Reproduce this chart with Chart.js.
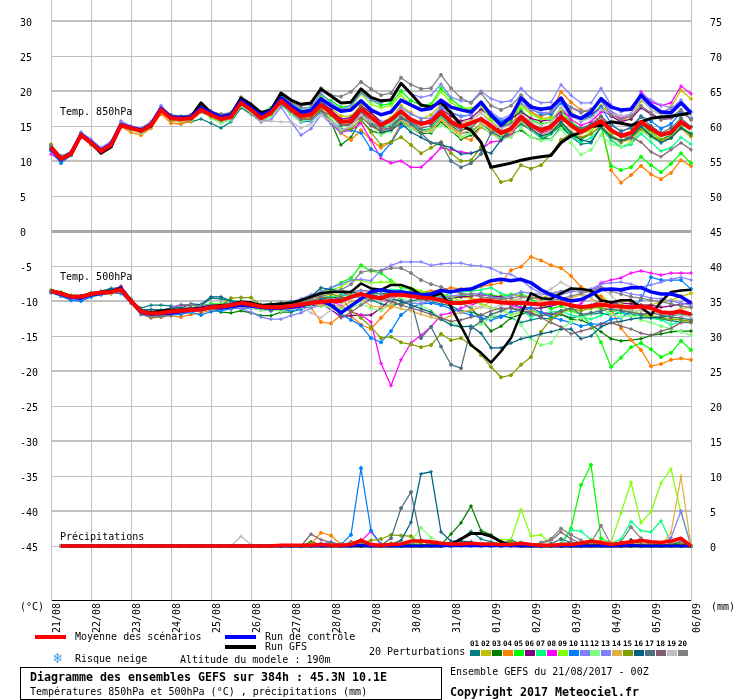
<!DOCTYPE html>
<html>
<head>
<meta charset="utf-8">
<title>Diagramme des ensembles GEFS</title>
<script src="https://cdn.jsdelivr.net/npm/chart.js@4"></script>
<style>
  body { margin: 0; background: #fff; }
  #page { position: relative; width: 740px; height: 700px; overflow: hidden; }
  #gefs { position: absolute; left: 0; top: 0; }
  .t { position: absolute; font: 10px/12px "DejaVu Sans Mono", monospace; color: #000; white-space: pre; }
  .b { font: bold 11.63px/14px "DejaVu Sans Mono", monospace; }
  .sw { position: absolute; }
  .box { position: absolute; left: 20px; top: 667px; width: 420px; height: 31px; border: 1px solid #000; }
</style>
</head>
<body>
<div id="page">
  <canvas id="gefs" width="740" height="700"></canvas>
  <div class="t" style="left:60px;top:106px">Temp. 850hPa</div>
  <div class="t" style="left:60px;top:271px">Temp. 500hPa</div>
  <div class="t" style="left:60px;top:531px">Précipitations</div>
  <div class="t" style="left:20px;top:601px">(°C)</div>
  <div class="t" style="left:711px;top:601px">(mm)</div>
  <div class="sw" style="left:35px;top:635px;width:31px;height:4px;background:#ff0000"></div>
  <div class="t" style="left:75px;top:631px">Moyenne des scénarios</div>
  <div class="sw" style="left:225px;top:635px;width:31px;height:4px;background:#0000ff"></div>
  <div class="t" style="left:265px;top:631px">Run de contrôle</div>
  <div class="sw" style="left:225px;top:645px;width:31px;height:4px;background:#000"></div>
  <div class="t" style="left:265px;top:641px">Run GFS</div>
  <div class="t" style="left:53px;top:652px;font-size:15px;font-weight:bold;color:#3f9fe8">❄</div>
  <div class="t" style="left:75px;top:653px">Risque neige</div>
  <div class="t" style="left:180px;top:654px">Altitude du modele : 190m</div>
  <div class="t" style="left:369px;top:646px">20 Perturbations</div>
  <div class="box"></div>
  <div class="t b" style="left:30px;top:670px">Diagramme des ensembles GEFS sur 384h : 45.3N 10.1E</div>
  <div class="t" style="left:30px;top:686px">Températures 850hPa et 500hPa (°C) , précipitations (mm)</div>
  <div class="t" style="left:450px;top:666px">Ensemble GEFS du 21/08/2017 - 00Z</div>
  <div class="t b" style="left:450px;top:685px">Copyright 2017 Meteociel.fr</div>
</div>
<script>
const dayLabels = ['21/08','22/08','23/08','24/08','25/08','26/08','27/08','28/08','29/08','30/08','31/08','01/09','02/09','03/09','04/09','05/09','06/09'];
const tempTicks = [30,25,20,15,10,5,0,-5,-10,-15,-20,-25,-30,-35,-40,-45];
const mmTicks = [75,70,65,60,55,50,45,40,35,30,25,20,15,10,5,0];
const memberNames = ['01','02','03','04','05','06','07','08','09','10','11','12','13','14','15','16','17','18','19','20'];
const memberColors = ['#008080','#c0c000','#008000','#ff8000','#00ff00','#800080','#00ff80','#ff00ff','#80ff00','#0080ff','#8080ff','#80ff80','#8080ff','#e0b040','#80a000','#006080','#507080','#806070','#c0c0c0','#808080'];
const memberMarkers = ['cross','circle','rectRot','circle','circle','cross','cross','cross','cross','circle','cross','circle','rectRot','cross','circle','cross','circle','cross','cross','circle'];

// 850 hPa, one value every 6h, four per day
const t850Mean = [11.9,10.3,11,13.7, 12.6,11.4,12.3,15.1, 14.7,14.3,15.1,17.3, 16.1,16,16.1,17.3, 16.6,16,16.3,18.3, 17.3,16.1,16.9,18.6, 17.4,16.4,16.6,18, 16.9,15.6,15.7,17.4, 16.3,15.1,15.9,17.1, 15.9,15.3,15.6,17, 15.6,14.9,15.4,16, 15,14,14.6,16.3, 15.1,14.4,14.9,16.3, 15.1,14.1,14.9,15.7, 14.4,13.6,14,15.6, 14.6,13.7,14.1,15.6, 14.6];
const t850Control = [11.8,10.2,11.1,13.8, 12.7,11.5,12.4,15.2, 14.8,14.4,15.2,17.5, 16.3,16.2,16.3,17.6, 16.9,16.3,16.6,18.6, 17.6,16.5,17.2,19, 17.9,17,17.2,18.9, 17.9,17.1,17.3,18.6, 17.3,16.6,17,18.7, 18,17.3,17.5,18.7, 17.7,17.3,17,18.4, 16.6,15.1,16.3,19, 17.7,17.4,17.6,19, 16.6,16.1,17,18.9, 17.7,17.3,17.4,19.4, 18,17,16.9,18.3, 16.9];
const t850Gfs = [12,10.3,10.9,13.7, 12.6,11.1,12,15.1, 14.7,14.4,15,17.4, 16.3,16.1,16.3,18.3, 16.9,16.3,16.6,19, 18.1,16.9,17.3,19.7, 18.7,18.1,18.3,20.3, 19.3,18.3,18.4,20.3, 19.1,18.6,18.7,21.1, 19.6,18,17.7,18.4, 16.9,15.1,14.4,12.7, 9.1,9.4,9.7,10.1, 10.4,10.6,10.8,12.6, 13.6,14.1,14.9,15.1, 15.6,15.4,15.1,15.6, 16.1,16.3,16.4,16.6, 16.9];
const t850_01 = [11.6,10,11,13.6, 12.5,11.5,12.4,15, 14.5,14,14.8,17, 15.8,15.6,15.6,16, 15.4,14.7,15.6,17.6, 16.7,15.6,16.4,17.9, 17.3,16.4,16.3,18.6, 17.1,15.7,15.4,17.1, 15.6,14.9,15,16.3, 15.4,14.4,14.6,16.3, 15.1,14,14.1,15.4, 14.3,13.4,14,15.3, 14.4,13.3,13.1,14.9, 13.5,12.4,12.6,14.9, 13,12,12.4,14.6, 13.6,12.7,13.3,14.9, 13.9];
const t850_02 = [12.4,10.4,11,13.5, 12.7,11.3,12.5,15.4, 14.5,14.1,15,17, 16,16,16.2,17.5, 16.7,16.2,16.4,18.4, 17.6,16.5,17.1,19, 18,17.2,17.2,19, 17.6,16.4,16.4,18, 17,15.5,16.2,17.9, 16.9,16,16.6,18, 16.4,15.4,15.8,16.9, 15.7,14.6,15.8,18, 17.1,16,16.3,18.6, 17,16,16.5,17.9, 16.7,15.8,16,18.6, 17.7,16.7,17.7,20.1, 18.9];
const t850_03 = [11.7,10.1,11,13.6, 12.6,11.5,12.3,15, 14.6,14.2,15,17.2, 16,15.8,16,17, 16.3,15.6,16.2,18, 17,15.9,16.7,18.3, 17,15.9,16,17.6, 15.6,12.3,13.4,15.9, 14.3,13.9,14.4,15.7, 14.7,13.9,14,15.6, 14.3,13.1,13.7,14.9, 14,13.1,13.9,14.4, 13.4,13,13.9,15.1, 13.7,13.1,13.9,15, 13.4,12.6,13.4,15.4, 14.1,13.1,13.7,14.9, 13.9];
const t850_04 = [12,10.6,11.2,13.9, 12.3,11.4,12.1,14.9, 14.1,13.7,14.7,16.7, 15.4,15.3,15.7,17, 16.4,15.9,16.3,18.1, 17,15.9,16.6,18.1, 16.9,15.9,16,17.4, 16,14,13,14.4, 13,11.9,12.7,15.4, 14.7,14.1,14.4,15.9, 14.9,13.4,13,14.9, 14.1,13,13.7,19.3, 17,16.3,17,19.9, 18.4,17.3,16.9,15.4, 8.7,6.9,8,9.3, 8.1,7.4,8.3,10.1, 9.3];
const t850_05 = [11.9,10.4,11.1,13.8, 12.8,11.6,12.5,15.3, 14.9,14.5,15.3,17.6, 16.4,16.3,16.5,17.8, 17.1,16.5,16.8,18.9, 18,17,17.6,19.3, 18.3,17.5,17.7,19.4, 18.6,17.7,17.9,19.9, 18.7,18,18.2,20, 18.6,18,18.1,20.4, 18.9,17.7,17.3,18.3, 16.3,14.9,15.9,17.3, 15.9,15.3,15.6,17.1, 15.6,14.6,15,14.9, 9.3,8.7,9.1,10.6, 9.4,8.4,9.6,11.1, 9.7];
const t850_06 = [11.8,10.2,10.9,13.6, 12.6,11.4,12.4,15.2, 14.6,14.2,15.1,17.3, 16.2,16.1,16.1,17.4, 16.7,16,16.4,18.4, 17.5,16.4,17,18.7, 17.6,16.7,16.9,18.4, 17.3,16,16.2,17.8, 16.9,15.6,15.3,16.9, 15.7,15.4,15.9,17.4, 16.4,15.7,16.1,17.4, 16.3,15.6,16,17, 16.1,15.7,15.9,17.1, 16.3,15.9,16.6,17.6, 16.4,15.6,16,17.6, 16.7,15.9,16.1,17, 16];
const t850_07 = [11.9,10.3,11,13.7, 12.5,11.3,12.2,15, 14.6,14.2,15,17, 15.8,15.7,15.9,17, 16.3,15.7,16,18, 17,16,16.7,18.3, 17,16.1,16.3,17.9, 16.5,15.3,15.7,17.6, 16.1,14.7,15.1,16.9, 15.4,14.1,14.7,16.3, 15.3,14.7,15.1,16.1, 14.6,13.7,14.4,15.7, 14.4,13.4,13.9,15.6, 13.6,12.7,13.3,14.7, 13,12,12.4,13.9, 12.7,11.4,11.9,13.4, 12.4];
const t850_08 = [11,10,10.9,13.9, 12.8,11.6,12.4,15, 14.5,14.3,15.2,17.2, 16,15.9,16,17.1, 16.4,15.7,16,18, 16.9,15.9,16.5,18.1, 16.9,15.7,15.9,17.1, 15.4,14.1,14.4,15.4, 13,10.4,9.7,10, 9.1,9.1,10.4,11.9, 11.6,11.3,11.1,11.6, 12.7,12.9,13.7,15.9, 14.9,14,14.4,17.6, 15.9,15.1,15.6,17, 16.9,16.1,16.6,19.9, 18.4,17.9,18.3,20.7, 19.6];
const t850_09 = [12,10.5,11.2,13.8, 12.7,11.5,12.5,15.2, 14.8,14.4,15.2,17.5, 16.3,16.2,16.3,17.7, 17,16.4,16.7,18.7, 17.7,16.7,17.3,19.1, 18,17.2,17.4,19.1, 18.1,17.3,17.6,19.6, 18.1,17.6,17.9,19.4, 18,17.4,17.9,19.9, 18.4,17.4,17.6,17.9, 15.9,15.4,16.4,17.9, 16.7,16,16,17.4, 14.9,14,14.3,15.6, 14,13.6,13.4,14.9, 14,13.1,13.3,14.9, 13.6];
const t850_10 = [11.5,9.7,10.8,13.8, 12.7,11.6,12.3,14.9, 14.6,14.1,14.9,17.1, 16,15.9,16,17.1, 16.6,16.1,16.4,18.1, 17.1,16,16.6,18.1, 16.7,15.6,15.7,17, 15.7,14.6,14.4,14, 11.7,10.9,12.6,14.9, 14.9,15.6,15.3,17.7, 16.9,16.4,16.6,18.3, 16.7,15.7,16.3,19, 17.4,16.7,16.7,18.3, 16.6,15.7,16.4,17.7, 15.4,14.1,14.9,16.4, 15.7,14.6,15.3,17, 16.1];
const t850_11 = [12.1,10.6,11.4,14.1, 13.1,11.9,12.8,15.6, 15,14.7,15.6,17.9, 16.4,16.3,16.6,18.1, 17.1,16.6,16.9,18.7, 17.9,16.9,17.4,19.4, 18.3,17.6,17.6,19.7, 18.3,17.4,17.9,19.7, 18.7,18.3,18.9,20.9, 19.6,19.1,19.4,21, 19.1,18.6,18.4,20, 18.9,18.4,18.6,20.4, 19,18.3,18.4,20.9, 19.4,18.3,18.3,20.4, 18,17,17.6,19.6, 18.7,18,17.6,18.4, 16.9];
const t850_12 = [11.9,10.2,10.9,13.5, 12.4,11.3,12.3,15, 14.4,14,14.9,17, 15.9,15.7,15.9,17.1, 16.1,15.4,15.9,17.9, 16.9,15.7,16.4,18, 16.7,15.7,15.9,17.1, 16,14.9,15,16.7, 15.1,13.7,14.3,15.6, 14.6,14.1,14.3,15.1, 14.4,13.4,14,15.1, 13.9,13.1,13.4,14.7, 13.4,12.9,13.1,14.6, 12.6,10.9,11.6,13.7, 12.4,12,12.7,14.4, 13.3,12.7,13.4,15, 14];
const t850_13 = [12.2,10.7,11.3,14.1, 13,11.7,12.7,15.7, 14.9,14.6,15.6,17.9, 16.4,16.2,16.4,18, 16.9,15.9,16,18.7, 17.1,15.6,15.9,17.7, 15.6,13.7,14.6,16.6, 15.3,14,15,16.9, 16,15.6,15.9,17.6, 16.7,16.1,16.1,17.7, 16.9,16.3,16.6,18.1, 17,16,16.6,18.3, 17.3,16.9,17,18.6, 17.7,17.1,17.3,18.6, 17.1,16.4,16.7,18.9, 17.7,17.1,17.4,18.7, 17.1];
const t850_14 = [12.1,10.4,11,13.6, 12.4,11.2,12.1,14.9, 14.4,14.1,14.9,17, 15.7,15.6,15.9,17.1, 16.3,15.7,16.1,18.1, 17,15.9,16.6,18.1, 17.1,16,16.3,17.7, 16.6,15.3,15.4,17, 15.7,14.4,14.7,15.9, 15,14.1,14.4,15.9, 14.7,14,14.4,15.3, 14.6,13.7,14.1,15.7, 14.4,13.7,14.3,15.6, 14.3,13.4,14,14.9, 13.3,12.7,13,14.6, 13.7,12.9,13.4,14.6, 13.4];
const t850_15 = [12.3,10.5,11.1,13.7, 12.5,11.2,12.2,15, 14.6,14.3,15.1,17.1, 15.9,15.9,16,17.3, 16.4,15.9,16.2,18.1, 17,16,16.7,18.3, 17.1,16,16.1,17.3, 15.7,14.3,14.6,15.9, 14.1,12.3,12.7,13.4, 12.3,11.1,11.9,12.7, 11.1,10,10.1,12, 9.1,7,7.3,9.4, 8.9,9.4,10.9,13, 13.9,13.3,13.9,15, 13.7,12.9,13.4,14.6, 13.6,13,13.3,14.9, 13.6];
const t850_16 = [11.7,10.1,11,13.7, 12.6,11.5,12.5,15.1, 14.7,14.2,15,17.3, 16.1,16,16,17.4, 16.6,15.9,16.3,18.3, 17.3,16.1,17,18.7, 17.4,16.7,16.7,18.4, 16.9,15.6,15.9,16.9, 15.4,14.1,14.4,15.4, 14.1,13.4,12.6,12.3, 11.9,11,11.1,11.6, 11.1,13,14.7,16, 14.6,13.6,14,15.6, 14,13,12.7,14.9, 13.4,12.9,13.3,15, 13.6,12.6,13.3,14.7, 13.9];
const t850_17 = [11.8,10.2,11,13.7, 12.5,11.4,12.4,15.1, 14.6,14.3,15.1,17.4, 16.1,16.1,16.2,17.5, 16.6,16.1,16.4,18.4, 17.3,16.2,17,18.6, 17.6,16.6,16.7,18.3, 16.6,15.1,15.3,16.9, 15.6,14.7,14.7,16.1, 15.3,14,12.6,12.6, 10,9.1,9.7,11, 14,14.9,15.3,16.7, 15.4,14.6,15.1,16.6, 15.3,14.6,15.3,16.4, 15.1,14.3,14.7,16.3, 15,14,14.7,16.1, 14.9];
const t850_18 = [11.9,10.4,11,13.6, 12.7,11.3,12.2,15.1, 14.7,14.3,15,17.4, 16.3,16.3,16.4,17.9, 17.1,16.6,16.7,18.9, 17.9,16.8,17.4,18.1, 17.1,15.9,16,17.1, 16.6,15.1,15.1,16.3, 15,14.3,14.7,16.3, 15.6,14.7,15,16.6, 15.3,14.4,14.7,16.1, 15.1,14.3,14.7,15.9, 14.9,14.1,14.7,16, 15.1,14.4,15,16.3, 14.6,13.4,13.4,12.7, 11.3,10.6,11.6,12.6, 11.6];
const t850_19 = [12,10.5,11.2,13.8, 12.6,11.4,12.4,15.2, 14.8,14.5,15.3,17.4, 16.1,16,16.1,17.4, 16.7,16.1,16.3,18.1, 17,15.7,15.7,15.6, 15.6,14.7,15.3,16.6, 15.7,14.4,15,16.6, 15.6,15,15.4,17.1, 15.9,15,15.7,17.1, 15.9,15.3,15.7,16.9, 15.4,14.7,15.1,16.6, 15.7,15.1,15.6,17.7, 16.4,15.7,16.1,17.4, 16.7,16.4,16.6,18.9, 17.3,16.6,16.7,18.3, 16.4];
const t850_20 = [12.2,10.7,11.2,13.9, 12.7,11.3,12.2,15.1, 14.8,14.5,15.4,17.6, 16.6,16.4,16.6,18.1, 17.1,16.7,16.9,19.1, 18.1,17,17.4,19.4, 18.3,17.9,18.1,20.4, 19.4,19.2,19.9,21.3, 20.3,19.4,19.7,21.9, 20.9,20.3,20.4,22.3, 20.4,19,18.3,19.7, 17.9,17.3,17.9,19.4, 17.9,17.4,17.4,18.9, 17.6,16.9,17.4,18.6, 16.6,15.9,16.4,17.9, 16.9,15.9,16.3,17.3, 15.9];

// 500 hPa
const t500Mean = [-8.6,-8.9,-9.4,-9.4, -9,-8.8,-8.7,-8.4, -10,-11.5,-11.8,-11.7, -11.5,-11.4,-11.3,-11.2, -10.9,-10.8,-10.6,-10.3, -10.5,-10.8,-10.9,-10.9, -10.7,-10.5,-10.3,-10.1, -10,-10,-9.4,-9, -9.4,-9.6,-9.1,-9.1, -9.3,-9.5,-9.6,-9.9, -10.3,-10.3,-10.1,-9.9, -10,-10.2,-10.3,-10.3, -10.4,-10.5,-10.3,-10.3, -10.6,-10.9,-10.7,-10.5, -10.7,-10.8,-10.9,-10.8, -11,-11.6,-11.7,-11.5, -11.9];
const t500Control = [-8.6,-9,-9.5,-9.6, -9.1,-8.9,-8.7,-8.3, -10,-11.6,-11.9,-11.8, -11.7,-11.5,-11.3,-11.1, -10.9,-11,-10.8,-10.6, -10.7,-10.9,-11,-11, -10.9,-10.7,-10.3,-10, -10.6,-11.7,-10.7,-9.7, -8.7,-8.4,-8.7,-8.7, -8.9,-9.1,-9,-8.5, -8.7,-8.4,-8.3,-7.7, -7.1,-6.9,-7.1,-6.9, -7.4,-8.4,-9.1,-9.6, -10,-9.8,-9.1,-8.4, -8.3,-8.4,-8.1,-8.1, -8.7,-9,-9,-9.4, -10.3];
const t500Gfs = [-8.5,-8.8,-9.3,-9.3, -8.9,-8.7,-8.6,-8.2, -9.9,-11.4,-11.6,-11.4, -11.3,-11.3,-11.1,-11, -10.7,-10.6,-10.5,-10.1, -10.2,-10.6,-10.5,-10.4, -10.3,-9.9,-9.4,-8.9, -8.7,-8.7,-8.7,-7.5, -8.2,-8.4,-7.7,-7.7, -8.2,-9.1,-9.4,-8.9, -10.8,-13.6,-16.3,-17.4, -18.8,-17.2,-15.3,-11.8, -8.9,-9.6,-9.7,-8.9, -8.2,-8.3,-8.5,-9.9, -10.2,-9.9,-9.9,-10.9, -12,-10.1,-8.7,-8.5, -8.4];
const t500_01 = [-8.7,-9.1,-9.6,-9.5, -9,-8.6,-8.2,-8.1, -10,-11,-10.6,-10.6, -10.7,-11,-11,-10.7, -9.6,-9.7,-10,-10.4, -10.7,-10.5,-10.4,-10.3, -10.4,-10.1,-9.7,-8.6, -8.3,-8.7,-9.2,-9.6, -9.8,-10.4,-10.7,-10.3, -10,-9.7,-10.1,-10.4, -10.7,-11.4,-11.6,-12, -12.4,-12.1,-12.4,-13.1, -12.7,-12.4,-12.6,-11.9, -12.4,-12.1,-11.9,-11.7, -12.1,-11.6,-11.9,-12.1, -12.4,-12.6,-12.8,-13, -13];
const t500_02 = [-8.5,-8.8,-9.3,-9.5, -9,-8.9,-8.9,-8.7, -10.3,-11.7,-12,-12, -11.6,-11.5,-11.4,-11.3, -11,-11,-10.7,-10.4, -10.6,-10.7,-10.4,-10.6, -10.5,-10.2,-10,-9.7, -9.4,-9.4,-9,-8.5, -8.7,-9,-9.3,-9.3, -9,-9.1,-9.3,-9.1, -9.4,-9.4,-9.6,-9.9, -9.6,-9.3,-9.1,-9.3, -9.4,-9.6,-9.1,-8.7, -8.4,-8.6,-8.7,-9.3, -10.3,-10,-10.1,-10.6, -10.6,-10.1,-9.9,-9.3, -8.9];
const t500_03 = [-8.6,-9,-9.5,-9.5, -9.1,-8.9,-8.8,-8.6, -10,-11.4,-11.8,-11.8, -11.4,-11.3,-11.4,-11.3, -11.1,-11.6,-11.7,-11.4, -11.7,-12.1,-12.1,-11.6, -11.6,-11.1,-10.6,-9.8, -9.4,-9.6,-9.4,-9.1, -9,-8.9,-9,-9.3, -9.4,-9.6,-9.6,-9.7, -10,-10.3,-11,-12.6, -14.3,-13.6,-12.4,-11.9, -11.4,-11.7,-11.9,-11.9, -12.6,-12.7,-13.4,-14.4, -15.4,-15.7,-15.6,-15.4, -14.9,-14.7,-14.4,-14.3, -14.3];
const t500_04 = [-8.6,-9,-9.3,-9.4, -8.9,-8.9,-8.9,-8.7, -10.1,-11.9,-12.4,-12.3, -12.1,-12.3,-11.9,-11.7, -11.3,-11.1,-11,-10.7, -10.8,-11.3,-11.2,-11.4, -11.1,-11,-10.9,-13, -13.2,-12,-12.1,-13.4, -14,-12.4,-10.9,-9.3, -8.7,-8.7,-8.6,-8.4, -8.1,-8.3,-8.6,-7.9, -7.7,-7.4,-5.6,-5.1, -3.7,-4.2,-4.9,-5.3, -6.4,-8,-8.7,-9.4, -11.1,-13.9,-15.6,-17, -19.3,-19,-18.4,-18.2, -18.4];
const t500_05 = [-8.5,-8.8,-9.2,-9.3, -8.9,-8.8,-8.7,-8.5, -9.9,-11.3,-11.6,-11.5, -11.3,-11.2,-11.1,-10.7, -10.4,-10.4,-10.3,-10.1, -10.4,-10.6,-10.6,-10.4, -10.3,-10,-9.6,-8.7, -8.1,-7.4,-6.7,-4.9, -5.7,-6,-7.1,-8, -8.4,-8.9,-9,-9.3, -9.6,-9.3,-9,-8.9, -9.1,-9.4,-9.1,-8.9, -9.7,-10.6,-11.1,-10.7, -11.4,-11.9,-13.4,-15.9, -19.4,-18.1,-16.6,-16, -16.9,-18,-17.4,-15.7, -17];
const t500_06 = [-8.6,-9,-9.6,-9.6, -9.1,-8.9,-8.5,-7.9, -9.7,-11.5,-12,-12, -11.7,-11.5,-11.4,-11.1, -10.9,-10.7,-10.3,-10.1, -10.6,-11.1,-11.1,-10.9, -11,-10.7,-10.7,-10.4, -11.2,-12.3,-12.1,-12, -12,-11,-9.7,-9, -8.9,-9.1,-9.7,-10, -9.6,-9.4,-9.3,-9.1, -9.3,-9.4,-10.3,-10.9, -11,-11,-10.7,-10.4, -10.6,-10.9,-10.6,-10,-10.3,-10.3,-10.4,-10.6, -10.6,-10.9,-10.7,-10.4, -10.3];
const t500_07 = [-8.5,-8.9,-9.4,-9.4, -9,-8.7,-8.6,-8.3, -9.7,-11.4,-11.6,-11.6, -11.1,-11.3,-11,-10.9, -10.6,-10.4,-10,-10.1, -10.3,-10.7,-10.6,-10.7, -10.3,-9.8,-9.4,-9.2, -9.4,-9.1,-9.3,-9.1, -8.7,-8.6,-8.4,-8.4, -8.9,-9.3,-9.3,-9.4, -8.8,-8.7,-8.6,-8.4, -8.1,-8.9,-9.3,-11.3, -12.3,-11.7,-11.6,-11.4, -12,-12.3,-12.6,-12.1, -11.4,-11.7,-12.1,-12.1, -12.4,-12.7,-13.4,-12.9, -12.6];
const t500_08 = [-8.7,-9,-9.5,-9.6, -9.2,-8.8,-8.8,-8.6, -10,-11.3,-11.8,-11.9, -11.7,-11.8,-11.5,-11.4, -11.1,-11.1,-10.9,-10.9, -11,-11.3,-11.1,-11.1, -10.9,-11,-10.7,-10, -10.1,-10.6,-11.6,-12, -13,-18.9,-22.1,-18.4, -16,-14.9,-13.7,-12, -11.7,-11,-10.6,-10.1, -10,-10.3,-10.6,-11, -11.4,-11.6,-11.9,-11.7, -11,-10.4,-9,-7.4, -7,-6.7,-6,-5.7, -6,-6.3,-6,-6, -6];
const t500_09 = [-8.4,-8.7,-9.2,-9.3, -8.8,-8.8,-8.6,-8.4, -10,-11.5,-11.7,-11.6, -11.3,-11.2,-11,-11, -10.6,-10.4,-10.4,-10.4, -10.6,-10.7,-10.7,-10.5, -10.4,-9.9,-9.3,-8.9, -8.4,-8,-7,-7.1, -7.4,-7.3,-7.3,-7.9, -8.1,-8.6,-8.9,-9, -9.4,-10,-10,-10.4, -10.9,-11.2,-11.9,-11.6, -11.4,-11.7,-12.3,-11.7, -11.1,-10.9,-11.1,-10.6, -10.7,-10.4,-11.1,-11.9, -12.3,-12.3,-12.6,-12.6, -13.1];
const t500_10 = [-8.8,-9.3,-9.9,-10, -9.4,-9.1,-8.9,-8.9, -10.3,-11.9,-12.3,-12.2, -12,-11.9,-11.6,-12, -11.5,-11.4,-11.1,-11, -11,-11.2,-11.4,-11.2, -11.4,-11.2,-10.6,-9.7, -10.6,-11.9,-12.7,-13.5, -15.3,-15.9,-14.3,-12, -10.9,-10.4,-10.3,-10.6, -11.1,-11.6,-12,-12.4, -12.7,-12.3,-11.6,-11.3, -11,-11.6,-12.3,-12.7, -13.1,-13.6,-13.3,-13.3, -12.6,-12.4,-11.4,-9.8, -6.6,-7,-7,-7, -8.3];
const t500_11 = [-8.6,-9,-9.5,-9.4, -8.9,-8.8,-8.7,-8.4, -10.1,-11.7,-11.9,-11.6, -10.9,-10.5,-10.6,-10.6, -10.6,-10.5,-10.3,-10.7, -11,-10.7,-10.7,-10.4, -10.1,-9.7,-9.1,-8.7, -8.1,-7.6,-7,-6.9, -7.1,-5.6,-4.9,-4.4, -4.4,-4.4,-4.9,-4.7, -4.6,-4.6,-4.9,-5, -5.3,-6,-6.2,-7, -8.1,-8.9,-9.3,-9.1, -8.7,-8.4,-8.3,-7.6, -7.4,-7.3,-7.6,-8, -7.7,-7.3,-6.9,-6.6, -7];
const t500_12 = [-8.5,-8.9,-9.4,-9.4, -9,-8.9,-8.9,-8.6, -10.1,-11.6,-12,-11.9, -11.7,-11.6,-11.3,-11.3, -11,-10.9,-10.7,-10.6, -10.9,-11.3,-11.3,-11.4, -11,-10.6,-10.9,-10.7, -10.9,-11.1,-10.9,-10.4, -11,-11.4,-10.3,-9.7, -10,-10.6,-11.4,-12.4, -13,-13.6,-13.7,-13.3, -12.4,-11.3,-12,-13.4, -15.4,-16.3,-16,-14, -13,-12.4,-11.9,-11,-11.9,-12.3,-12.1,-12.7, -13.1,-13.6,-14,-14.4, -14.9];
const t500_13 = [-8.7,-9.1,-9.6,-9.6, -9.1,-8.9,-8.8,-8.5, -10.2,-11.6,-11.9,-11.7, -11.4,-11.5,-11.4,-11.3, -11.1,-11,-10.9,-11.1, -11.6,-12.3,-12.6,-12.6, -12.1,-11.7,-11,-10.6, -10,-9.3,-8.7,-8.5, -8.6,-9,-9.6,-10, -10.3,-10.4,-9.9,-9.4, -9.3,-9.1,-9,-8.9, -9.4,-9.6,-9.3,-8.7, -8.9,-9,-8.9,-8.6, -8.6,-8.7,-8.3,-8, -8.4,-8.6,-9,-9.2, -9.6,-9.7,-10,-10.3, -10.6];
const t500_14 = [-8.6,-9,-9.4,-9.5, -9.1,-9,-9,-8.6, -10,-11.6,-11.9,-11.7, -11.7,-11.5,-11.1,-11.1, -11,-11,-10.4,-10.5, -10.6,-10.7,-10.9,-10.6, -10.7,-10.6,-10.3,-10.6, -10.5,-10.9,-10.1,-9.7, -10.7,-10.9,-10.7,-11.1, -11.4,-11.9,-12.3,-12.7, -12.1,-11.6,-11.3,-10.9, -10.1,-9.7,-10,-9.6, -9.4,-10,-10.4,-10.1, -9.6,-9.1,-9.6,-10.4, -10.7,-11,-11.4,-11.3, -11.7,-12,-11.6,-11.1, -10.9];
const t500_15 = [-8.5,-8.9,-9.4,-9.4, -9,-8.9,-8.8,-8.4, -9.9,-11.6,-11.9,-11.7, -11.6,-11.3,-11.2,-11.2, -11,-10.7,-9.6,-9.5, -9.5,-10.6,-10.7,-10.6, -10.3,-10,-9.6,-9.3, -9,-9.4,-11.4,-12.4, -13.7,-15.3,-15.1,-15.9, -16.2,-16.6,-16.3,-14.7, -15.6,-15.3,-16.3,-17.7, -19.4,-20.9,-20.6,-19.1, -18,-14.4,-12.6,-11.6, -11.1,-11.4,-11,-10.9, -11.3,-11.3,-11.6,-11.9, -12.1,-12.4,-12.6,-12.7, -12.9];
const t500_16 = [-8.6,-9,-9.4,-9.3, -8.9,-8.7,-8.3,-8.4, -9.9,-11.3,-11.2,-11.3, -11,-11,-10.4,-10.5, -9.4,-9.4,-10,-10.1, -10.6,-10.6,-10.4,-10.3, -10.1,-9.9,-9.4,-8.1, -8.4,-8.5,-8.7,-9, -9.1,-9.4,-9.7,-10, -10.6,-11.1,-11.6,-12.6, -13.4,-13.7,-13.6,-14.6, -16.7,-16.7,-16,-15.4, -15.1,-14.7,-14.4,-14, -14,-15.4,-15,-13.7, -13.1,-12.9,-12.6,-12.4, -12.4,-12.3,-12.1,-12, -11.9];
const t500_17 = [-8.6,-8.9,-9.4,-9.5, -9.1,-8.9,-8.7,-8.6, -10.1,-11.7,-12,-11.9, -11.6,-11.4,-11.2,-11.4, -11.1,-11,-10.9,-10.9, -10.6,-11,-11.3,-11.1, -10.8,-10.6,-10.3,-10.1, -9.8,-9.6,-9.4,-9.2, -9.4,-9.6,-9.9,-10.6, -9.9,-15.3,-13.7,-16.5, -19.1,-19.6,-13.9,-12.9, -11.9,-11.4,-10.9,-11.3, -11.9,-12.1,-11.9,-11.4, -11,-11.9,-11.7,-11.4, -11.1,-11.4,-11.6,-11.9, -11.7,-12,-12.3,-12.4, -12.7];
const t500_18 = [-8.6,-9,-9.4,-9.4, -9,-8.7,-8.6,-8.4, -10,-11.7,-12.3,-11.9, -11.1,-10.6,-10.6,-10.7, -10.9,-11,-10.9,-10.7, -10.4,-10.6,-11.1,-10.9, -10.6,-10.3,-10,-9.4, -9.6,-12.4,-11.6,-10.6, -9.7,-9.7,-10.1,-10.6, -11,-11.4,-11.9,-12.4, -12.9,-12.7,-12.3,-12, -11.4,-11,-11.1,-11.4, -11.6,-12.4,-13.1,-13.7, -14.7,-14.3,-13.9,-13.3, -13.1,-13.6,-14,-14.6, -14.9,-14.3,-13.9,-13.1, -13.1];
const t500_19 = [-8.6,-9,-9.4,-9.5, -9,-8.8,-8.8,-8.6, -10.1,-11.8,-12.1,-11.9, -11.7,-11.6,-11.4,-11.2, -11.1,-11.1,-10.9,-10.9, -10.9,-11,-11,-10.9, -11.1,-10.9,-11.7,-12.4, -11.3,-10.4,-9.7,-9.3, -9.3,-9.6,-9.7,-9.3, -9.4,-9.6,-9.9,-10.1, -10.3,-10.4,-10.7,-10.9, -11.1,-10.6,-10.4,-9.7, -9.3,-8.9,-8.3,-7.3, -8.1,-8.9,-9.4,-8.1, -9.1,-10.6,-11.3,-11.4, -11.6,-11.7,-11.9,-12.1, -12.3];
const t500_20 = [-8.6,-9.1,-9.6,-9.5, -9,-8.8,-8.8,-8.6, -10.3,-11.9,-12.3,-12.1, -11.9,-11.6,-10.6,-10.7, -10.9,-11,-10.7,-10.6, -10.7,-10.9,-10.6,-10.4, -10.3,-10.1,-9.7,-9.1, -8.7,-8.4,-7.6,-5.9, -5.6,-5.7,-5.3,-5.3, -6,-7,-7.6,-8, -8.6,-8.9,-9.1,-9.4, -9.6,-9.7,-9.6,-9.3, -9.6,-9.6,-9.9,-9.7, -9.3,-8.9,-8.6,-8.1, -8.6,-9,-9.4,-9.6, -9.9,-10.1,-10.4,-10.7, -10.9];

// precipitation in mm, nothing drawn for the first step
const rainMean = [null,0,0,0, 0,0,0,0, 0,0,0,0, 0,0,0,0, 0,0,0,0, 0,0,0,0.1, 0.1,0.1,0.1,0.2, 0.1,0.1,0.2,0.8, 0.2,0.1,0.2,0.3, 0.7,0.7,0.6,0.4, 0.3,0.3,0.4,0.3, 0.3,0.2,0.2,0.4, 0.2,0.1,0.1,0.2, 0.2,0.4,0.7,0.5, 0.2,0.4,0.6,0.8, 0.6,0.5,0.7,1.1, 0];
const rainControl = [null,0,0,0, 0,0,0,0, 0,0,0,0, 0,0,0,0, 0,0,0,0, 0,0,0,0, 0,0,0,0, 0,0,0,0.1, 0,0,0,0, 0,0,0,0, 0,0,0,0, 0,0,0,0, 0,0,0,0, 0,0,0,0, 0,0,0.1,0, 0,0,0,0, 0];
const rainGfs = [null,0,0,0, 0,0,0,0, 0,0,0,0, 0,0,0,0, 0,0,0,0, 0,0,0,0, 0,0,0,0, 0,0,0,0, 0,0,0,0, 0,0,0,0, 0.2,1,1.8,1.8, 1.4,0.6,0.1,0, 0,0,0,0, 0,0,0,0, 0,0,0,0, 0,0,0,0, 0];
const rain_01 = [null,0,0,0, 0,0,0,0, 0,0,0,0, 0,0,0,0, 0,0,0,0, 0,0,0,0, 0,0,0,0, 0,0,0,0.4, 0,0,0,0, 0,0,0,0.2, 0.4,1,2.1,1, 0.6,0.2,0.9,0.2, 0,0,0,0.3, 0.5,0.3,0.6,0.3, 0,0.2,0.8,0.3, 0.2,0.1,0.3,0.3, 0];
const rain_02 = [null,0,0,0, 0,0,0,0, 0,0,0,0, 0,0,0,0, 0,0,0,0, 0,0,0,0, 0,0,0,0, 0,0,0,0.2, 0.1,0.3,0.4,0.2, 0.1,0.3,0,0, 0,0.2,0.2,0.1, 0,0,0.1,0.2, 0,0,0,0.1, 0,0.2,0.3,0.2, 0.1,0,0.1,0.2, 0.3,0.1,0.1,0.3, 0];
const rain_03 = [null,0,0,0, 0,0,0,0, 0,0,0,0, 0,0,0,0, 0,0,0,0, 0,0,0,0, 0,0,0.6,0.2, 0.1,0,0.1,0.3, 0.1,0.1,0.3,0.2, 0.3,0.2,0.1,0.2, 1.7,3.3,5.7,2.2, 1.6,0.7,0.2,0.1, 0,0,0,0.1, 0.3,0.2,0.7,0.4, 0.3,0.1,0.9,0.2, 0.3,0.1,0.3,0.5, 0];
const rain_04 = [null,0,0,0, 0,0,0,0, 0,0,0,0, 0,0,0,0, 0,0,0,0, 0,0,0,0, 0,0,0.3,1.9, 1.5,0.2,0,0, 0,0,0.1,0.3, 0.2,0,0,0.1, 0,0.3,0.2,0, 0,0,0.1,0, 0,0,0,0, 0.2,0.3,0.5,0.6, 0.4,0.1,0.2,0, 0,0,0,0.1, 0];
const rain_05 = [null,0,0,0, 0,0,0,0, 0,0,0,0, 0,0,0,0, 0,0,0,0, 0,0,0,0, 0,0,0,0, 0,0,0,0, 0,0,0.2,0.1, 0,0,0,0, 0,0.1,0,0, 0,0,0,0.1, 0,0,0,0.3, 2.5,8.7,11.6,1.1, 0.4,0.2,0.4,0, 0,0.2,0,0.2, 0];
const rain_06 = [null,0,0,0, 0,0,0,0, 0,0,0,0, 0,0,0,0, 0,0,0,0, 0,0,0,0, 0,0,0,0.2, 0.1,0.2,0.4,0.9, 0.2,0,0.1,0.2, 0.1,0,0,0.2, 0.1,0.2,0.3,0.2, 0.1,0,0,0.1, 0,0,0.1,0, 0.1,0.2,0.6,0.3, 0.2,0.2,0.7,0.2, 0.1,0,0.1,0.2, 0];
const rain_07 = [null,0,0,0, 0,0,0,0, 0,0,0,0, 0,0,0,0, 0,0,0,0, 0,0,0,0, 0,0,0,0, 0,0,0,0.3, 0.1,0,0,0.1, 0.2,0.2,0,0, 0,0.1,0.5,0.3, 0.1,0,0.3,0.6, 0,0,0,0.2, 2.3,2.1,0.9,0.4, 0.3,1,3.5,2.2, 2,3.6,0.5,1, 0];
const rain_08 = [null,0,0,0, 0,0,0,0, 0,0,0,0, 0,0,0,0, 0,0,0,0, 0,0,0,0, 0,0,0,0, 0,0,0,0.7, 2.1,0.2,0,0, 0,0,0,0, 0,0,0,0, 0,0,0,0, 0,0,0,0, 0,0,0,0, 0,0,0,0, 0,0,0,0, 0];
const rain_09 = [null,0,0,0, 0,0,0,0, 0,0,0,0, 0,0,0,0, 0,0,0,0, 0,0,0,0, 0,0,0,0, 0,0,0,0, 0,0,0,0.2, 0.1,0,0,0, 0.1,0.1,0,0, 0,0.9,0.9,5.2, 1.4,1.6,0.2,0, 0,0,0,0.3, 0.5,4.7,9.1,3.3, 4.9,9,11,4.7, 0];
const rain_10 = [null,0,0,0, 0,0,0,0, 0,0,0,0, 0,0,0,0, 0,0,0,0, 0,0,0,0, 0,0,0.1,0.3, 0.5,0.2,1.6,11.1, 2.2,0.2,0,0, 0.1,0,0,0, 0,0.2,0.1,0, 0,0,0,0, 0,0,0,0, 0,0,0,0.1, 0,0,0,0, 0.1,0,0,0, 0];
const rain_11 = [null,0,0,0, 0,0,0,0, 0,0,0,0, 0,0,0,0, 0,0,0,0, 0,0,0,0, 0,0,0,0, 0,0,0,0, 0,0,0,0, 0.1,0,0,0, 0,0,0,0, 0,0.1,0.2,0.1, 0,0,0,0, 0,0.2,0.1,0, 0,0.1,0.3,0.1, 0,0,0.1,0.1, 0];
const rain_12 = [null,0,0,0, 0,0,0,0, 0,0,0,0, 0,0,0,0, 0,0,0,0, 0,0,0,0, 0,0,0,0, 0,0,0,0.1, 0,0,0,0.3, 0.7,2.6,1.2,0.4, 0,0,0.1,0.2, 0,0,0.1,0.2, 0,0,0,0, 0.1,0.2,0.3,0, 0,0.2,0.5,0.1, 0.2,0,0.1,0.2, 0];
const rain_13 = [null,0,0,0, 0,0,0,0, 0,0,0,0, 0,0,0,0, 0,0,0,0, 0,0,0,0, 0,0,0,0, 0,0,0,0, 0,0,0,0, 0,0,0,0, 0,0,0,0, 0,0,0,0, 0,0,0,0, 0.1,0,0,0, 0,0,0.1,0, 0,0,1.2,5, 0];
const rain_14 = [null,0,0,0, 0,0,0,0, 0,0,0,0, 0,0,0,0, 0,0,0,0, 0,0,0,0, 0,0,0,0, 0,0,0,0, 0,0,0,0, 0.1,0,0,0, 0,0,0,0.1, 0,0,0,0, 0,0,0,0, 0,0.1,0,0.5, 0.6,0.2,0.1,0.4, 0.1,0,1.9,9.9, 0];
const rain_15 = [null,0,0,0, 0,0,0,0, 0,0,0,0, 0,0,0,0, 0,0,0,0, 0,0,0,0, 0,0,0,0.1, 0.2,0.2,0.1,0.4, 0.8,1,1.6,1.5, 1.4,0.2,0,0.1, 0,0.3,0.1,0, 0,0,0.6,0, 0,0,0,0, 0.1,0.2,0.4,0.1, 0.1,0,0.1,0.1, 0.1,0,0.1,0.3, 0];
const rain_16 = [null,0,0,0, 0,0,0,0, 0,0,0,0, 0,0,0,0, 0,0,0,0, 0,0,0,0, 0,0,0,0, 0,0,0,0, 0,0,0.2,0.8, 3.4,10.3,10.6,2, 0.7,0.7,0.6,0.1, 0,0,0,0, 0,0,0,0, 0,0,0.2,0.1, 0.1,0,0.2,0, 0.1,0,0,0.1, 0];
const rain_17 = [null,0,0,0, 0,0,0,0, 0,0,0,0, 0,0,0,0, 0,0,0,0, 0,0,0,0, 0,0,0,0, 0,0,0,0, 0.1,0.1,1.1,5.4, 7.7,0.8,0.1,0, 0,0.1,0.3,0.1, 0,0,0,0, 0,0,0.3,1, 0.5,0.2,0.1,0.1, 0,0.5,0.1,0.2, 0,0,0.3,0, 0];
const rain_18 = [null,0,0,0, 0,0,0,0, 0,0,0,0, 0,0,0,0, 0,0,0,0, 0,0,0,0, 0,0,1.7,0.9, 0.5,0.2,0.4,0.8, 0.1,0.2,0.3,0.1, 0,0,0.4,0.1, 0,0.1,0,0, 0,0,0,0, 0,0.4,0.8,2, 1,0.4,0.3,0.1, 0.2,0.1,0.4,0, 0,0,0.1,0.2, 0];
const rain_19 = [null,0,0,0, 0,0,0,0, 0,0,0,0, 0,0,0,0, 0,0,0,1.4, 0.2,0,0,0, 0,0,0,0, 0,0,0,0.1, 0,0,0,0, 0,0,0,0.1, 0,0,0,0, 0,0,0,0, 0.1,0.1,0,0.2, 0.3,0.2,0,0, 0,0.1,0.1,0, 0,0,0,0.1, 0];
const rain_20 = [null,0,0,0, 0,0,0,0, 0,0,0,0, 0,0,0,0, 0,0,0,0, 0,0,0,0, 0,0,0.2,0.3, 0.2,0.1,0.6,0.5, 0.2,0,0.1,0.1, 0,0,0.6,0.1, 0,0.1,0.1,0, 0,0,0,0.1, 0,0.5,1,2.5, 1.6,0.8,0.5,2.9, 0.2,0.6,2.7,1.1, 0.2,0,0.3,0.7, 0];

const t850Members = [t850_01,t850_02,t850_03,t850_04,t850_05,t850_06,t850_07,t850_08,t850_09,t850_10,t850_11,t850_12,t850_13,t850_14,t850_15,t850_16,t850_17,t850_18,t850_19,t850_20];
const t500Members = [t500_01,t500_02,t500_03,t500_04,t500_05,t500_06,t500_07,t500_08,t500_09,t500_10,t500_11,t500_12,t500_13,t500_14,t500_15,t500_16,t500_17,t500_18,t500_19,t500_20];
const rainMembers = [rain_01,rain_02,rain_03,rain_04,rain_05,rain_06,rain_07,rain_08,rain_09,rain_10,rain_11,rain_12,rain_13,rain_14,rain_15,rain_16,rain_17,rain_18,rain_19,rain_20];

// one label per 6h step, only the day ones end up as ticks
let stepLabels = [];
dayLabels.forEach((d, n) => {
    stepLabels.push(d);
    if (n < dayLabels.length - 1) stepLabels.push(d + ' 06h', d + ' 12h', d + ' 18h');
});

let datasets = [];
function thickLine(name, values, color, width, order, axis)
{
    datasets.push({ label: name, data: values, borderColor: color, backgroundColor: color, borderWidth: width,
        pointRadius: 0, tension: 0, order: order, yAxisID: axis, spanGaps: false, borderJoinStyle: 'round' });
}
function memberLines(prefix, list, axis)
{
    list.forEach((values, m) => {
        datasets.push({ label: prefix + ' ' + memberNames[m], data: values, borderColor: memberColors[m], backgroundColor: memberColors[m],
            borderWidth: 1.25, pointRadius: memberMarkers[m] == 'cross' ? 2 : 1.5, pointBorderWidth: 1, pointBorderColor: memberColors[m],
            pointBackgroundColor: memberColors[m], pointStyle: memberMarkers[m], tension: 0, order: 30 - m, yAxisID: axis });
    });
}
memberLines('T850', t850Members, 'y');
memberLines('T500', t500Members, 'y');
memberLines('Précip', rainMembers, 'mm');
thickLine('T850 GFS', t850Gfs, '#000000', 3, 5, 'y');
thickLine('T500 GFS', t500Gfs, '#000000', 2.5, 5, 'y');
thickLine('Précip GFS', rainGfs, '#000000', 3, 5, 'mm');
thickLine('T850 contrôle', t850Control, '#0000ff', 3.5, 4, 'y');
thickLine('T500 contrôle', t500Control, '#0000ff', 3.5, 4, 'y');
thickLine('Précip contrôle', rainControl, '#0000ff', 2.5, 4, 'mm');
thickLine('T850 moyenne', t850Mean, '#ff0000', 4, 1, 'y');
thickLine('T500 moyenne', t500Mean, '#ff0000', 4, 1, 'y');
thickLine('Précip moyenne', rainMean, '#ff0000', 3.5, 1, 'mm');

// the frame is pinned, no automatic room for the outer tick labels
function noPadding(s)
{
    s.paddingTop = 0; s.paddingBottom = 0; s.paddingLeft = 0; s.paddingRight = 0;
}

const tickFont = { family: '"DejaVu Sans Mono", monospace', size: 10 };
new Chart(document.getElementById('gefs').getContext('2d'),
{
    type: 'line',
    data: { labels: stepLabels, datasets: datasets },
    options: {
        responsive: false,
        animation: false,
        layout: { autoPadding: false, padding: { left: 20, top: 0, right: 0, bottom: 0 } },
        plugins: { legend: { display: false }, tooltip: { enabled: false } },
        scales: {
            x: {
                grid: { color: '#c0c0c0', lineWidth: 1, drawTicks: false },
                border: { color: '#000000', width: 1 },
                afterBuildTicks: (s) => { s.ticks = s.ticks.filter((t) => t.value % 4 == 0); },
                afterFit: (s) => { s.height = 100; noPadding(s); },
                ticks: { autoSkip: false, minRotation: 90, maxRotation: 90, padding: 3, labelOffset: 6, color: '#000', font: tickFont }
            },
            y: {
                position: 'left',
                min: -52.714, max: 33,
                grid: {
                    drawTicks: false,
                    color: (c) => c.tick.value == 0 ? '#a8a8a8' : '#c0c0c0',
                    lineWidth: (c) => c.tick.value == 0 ? 3 : (c.tick.value % 10 == 0 ? 2 : 1)
                },
                border: { color: '#c0c0c0', width: 1 },
                afterBuildTicks: (s) => { s.ticks = tempTicks.map((v) => ({ value: v })); },
                afterFit: (s) => { s.width = 31; noPadding(s); },
                ticks: { autoSkip: false, crossAlign: 'far', labelOffset: 2, color: '#000', font: tickFont }
            },
            mm: {
                position: 'right',
                min: -7.714, max: 78,
                grid: { display: false, drawTicks: false },
                border: { color: '#c0c0c0', width: 1 },
                afterBuildTicks: (s) => { s.ticks = mmTicks.map((v) => ({ value: v })); },
                afterFit: (s) => { s.width = 49; noPadding(s); },
                ticks: { autoSkip: false, padding: 19, labelOffset: 2, color: '#000', font: tickFont }
            }
        }
    }
});

// perturbation key under the chart
const page = document.getElementById('page');
memberNames.forEach((name, m) => {
    let x = 470 + m * 10.95;
    let sw = document.createElement('div');
    sw.className = 'sw';
    sw.style.cssText = 'left:' + Math.round(x) + 'px;top:650px;width:10px;height:6px;background:' + memberColors[m];
    page.appendChild(sw);
    let lab = document.createElement('div');
    lab.className = 't';
    lab.textContent = name;
    lab.style.cssText = 'left:' + Math.round(x) + 'px;top:638px;font-size:7.5px;font-weight:bold';
    page.appendChild(lab);
});
</script>
</body>
</html>
